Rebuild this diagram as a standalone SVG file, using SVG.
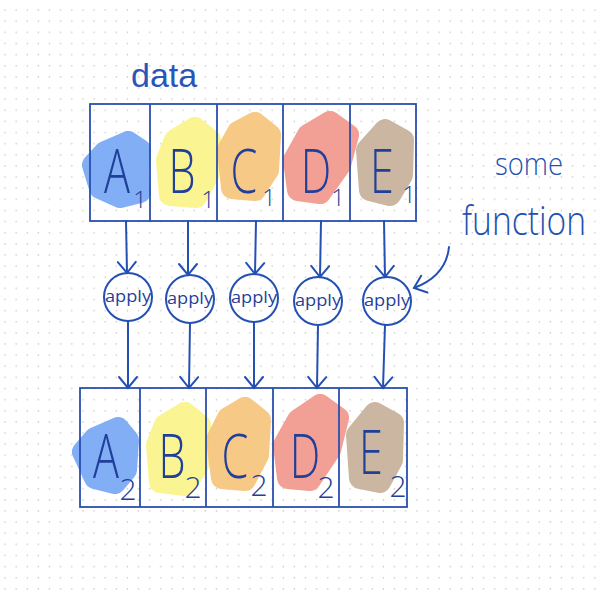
<svg xmlns="http://www.w3.org/2000/svg" width="600" height="598" viewBox="0 0 600 598">
<style>
.box{fill:none;stroke:#2a4fae;stroke-width:1.8}
.ln{fill:none;stroke:#2450b4;stroke-width:2;stroke-linecap:round}
.blob{stroke-width:22;stroke-linejoin:round;opacity:0.92}
.L{font-family:"Open Sans","Liberation Sans",sans-serif;font-weight:300;fill:#1f3f98;text-anchor:middle}
.hw{font-family:"Open Sans","Liberation Sans",sans-serif;font-weight:300;fill:#2350b0}
.ap{font-family:"Open Sans","Liberation Sans",sans-serif;font-size:16px;fill:#1f3f98;text-anchor:middle}
.c{fill:#fff;fill-opacity:0;stroke:#2450b4;stroke-width:2}
.bl{fill:#78a8f5;stroke:#78a8f5}
.ye{fill:#fbf48a;stroke:#fbf48a}
.or{fill:#f7c57c;stroke:#f7c57c}
.sa{fill:#f1998d;stroke:#f1998d}
.ta{fill:#c7b09a;stroke:#c7b09a}
</style>
<defs>
<pattern id="grid" x="0" y="0" width="11.13" height="11.13" patternUnits="userSpaceOnUse">
<circle cx="5" cy="10" r="0.8" fill="#c9c9c9"/>
</pattern>
<marker id="v" viewBox="-14 -12 28 24" refX="0" refY="0" markerWidth="28" markerHeight="24" markerUnits="userSpaceOnUse" orient="auto">
<path d="M-11,-9 L0,0 L-11,9" fill="none" stroke="#2450b4" stroke-width="2" stroke-linecap="round"/>
</marker>
</defs>
<rect width="600" height="598" fill="#fff"/>
<rect width="600" height="598" fill="url(#grid)"/>

<g id="blobs">
<polygon class="blob bl" points="128,142 140,150 138,175 140,192 120,197 100,188 93,165 105,152"/>
<polygon class="blob ye" points="195,128 210,140 208,175 196,197 170,195 167,160 175,140"/>
<polygon class="blob or" points="255,123 270,135 268,170 255,190 232,188 228,150 238,132"/>
<polygon class="blob sa" points="330,122 348,135 340,165 320,193 298,190 294,160 308,135"/>
<polygon class="blob ta" points="385,130 403,140 402,175 390,195 370,190 367,150"/>

<polygon class="blob bl" points="118,428 128,440 126,470 115,483 95,478 83,452 95,438"/>
<polygon class="blob ye" points="185,413 200,425 198,465 185,485 160,482 157,445 165,425"/>
<polygon class="blob or" points="245,408 260,420 258,455 245,480 222,478 217,440 228,418"/>
<polygon class="blob sa" points="320,405 338,418 330,450 310,480 288,478 284,445 298,420"/>
<polygon class="blob ta" points="375,413 393,423 392,460 380,482 360,478 357,435"/>
</g>

<text x="131" y="87" font-family="Liberation Sans, Arial, sans-serif" font-size="34" fill="#2a55b8">data</text>

<g id="row1">
<rect class="box" x="90" y="104" width="326" height="117"/>
<line class="box" x1="150" y1="104" x2="150" y2="221"/>
<line class="box" x1="217" y1="104" x2="217" y2="221"/>
<line class="box" x1="283" y1="104" x2="283" y2="221"/>
<line class="box" x1="350" y1="104" x2="350" y2="221"/>
<text class="L" font-size="60" transform="translate(117,193) scale(0.72,1)">A</text>
<text class="L" font-size="60" transform="translate(182,193) scale(0.72,1)">B</text>
<text class="L" font-size="60" transform="translate(244,193) scale(0.72,1)">C</text>
<text class="L" font-size="60" transform="translate(316,193) scale(0.72,1)">D</text>
<text class="L" font-size="60" transform="translate(382,193) scale(0.72,1)">E</text>
<text class="L" font-size="24" x="140" y="208">1</text>
<text class="L" font-size="24" x="208" y="208">1</text>
<text class="L" font-size="24" x="269" y="206">1</text>
<text class="L" font-size="24" x="338" y="206">1</text>
<text class="L" font-size="24" x="409" y="203">1</text>
</g>

<g id="row2">
<rect class="box" x="80" y="388" width="327" height="119"/>
<line class="box" x1="140" y1="388" x2="140" y2="507"/>
<line class="box" x1="206" y1="388" x2="206" y2="507"/>
<line class="box" x1="273" y1="388" x2="273" y2="507"/>
<line class="box" x1="339" y1="388" x2="339" y2="507"/>
<text class="L" font-size="60" transform="translate(106,478) scale(0.72,1)">A</text>
<text class="L" font-size="60" transform="translate(172,478) scale(0.72,1)">B</text>
<text class="L" font-size="60" transform="translate(235,478) scale(0.72,1)">C</text>
<text class="L" font-size="60" transform="translate(305,478) scale(0.72,1)">D</text>
<text class="L" font-size="60" transform="translate(371,474) scale(0.72,1)">E</text>
<text class="L" font-size="30" x="128" y="500">2</text>
<text class="L" font-size="30" x="193" y="498">2</text>
<text class="L" font-size="30" x="259" y="496">2</text>
<text class="L" font-size="30" x="326" y="498">2</text>
<text class="L" font-size="30" x="398" y="497">2</text>
</g>

<g id="apply1"><circle class="c" cx="128" cy="297" r="24"/><text class="ap" x="128" y="302" textLength="46" lengthAdjust="spacingAndGlyphs">apply</text></g>
<g id="apply2"><circle class="c" cx="190" cy="299" r="24"/><text class="ap" x="190" y="304" textLength="46" lengthAdjust="spacingAndGlyphs">apply</text></g>
<g id="apply3"><circle class="c" cx="254" cy="298" r="24"/><text class="ap" x="254" y="303" textLength="46" lengthAdjust="spacingAndGlyphs">apply</text></g>
<g id="apply4"><circle class="c" cx="318" cy="301" r="24"/><text class="ap" x="318" y="306" textLength="46" lengthAdjust="spacingAndGlyphs">apply</text></g>
<g id="apply5"><circle class="c" cx="387" cy="301" r="24"/><text class="ap" x="387" y="306" textLength="46" lengthAdjust="spacingAndGlyphs">apply</text></g>

<g id="note">
<text class="hw" x="495" y="175" font-size="32" textLength="68" lengthAdjust="spacingAndGlyphs">some</text>
<text class="hw" x="462" y="235" font-size="40" textLength="124" lengthAdjust="spacingAndGlyphs">function</text>
</g>

<g id="connectors">
<line class="ln" x1="126" y1="221" x2="127" y2="273" marker-end="url(#v)"/>
<line class="ln" x1="188" y1="221" x2="188" y2="275" marker-end="url(#v)"/>
<line class="ln" x1="256" y1="221" x2="255" y2="274" marker-end="url(#v)"/>
<line class="ln" x1="321" y1="221" x2="320" y2="277" marker-end="url(#v)"/>
<line class="ln" x1="384" y1="221" x2="385" y2="277" marker-end="url(#v)"/>
<line class="ln" x1="128" y1="321" x2="128" y2="388" marker-end="url(#v)"/>
<line class="ln" x1="190" y1="323" x2="189" y2="388" marker-end="url(#v)"/>
<line class="ln" x1="254" y1="322" x2="254" y2="388" marker-end="url(#v)"/>
<line class="ln" x1="318" y1="325" x2="317" y2="388" marker-end="url(#v)"/>
<line class="ln" x1="385" y1="325" x2="383" y2="388" marker-end="url(#v)"/>
<path class="ln" d="M449,247 Q446,276 414,288" marker-end="url(#v)"/>
</g>
</svg>
